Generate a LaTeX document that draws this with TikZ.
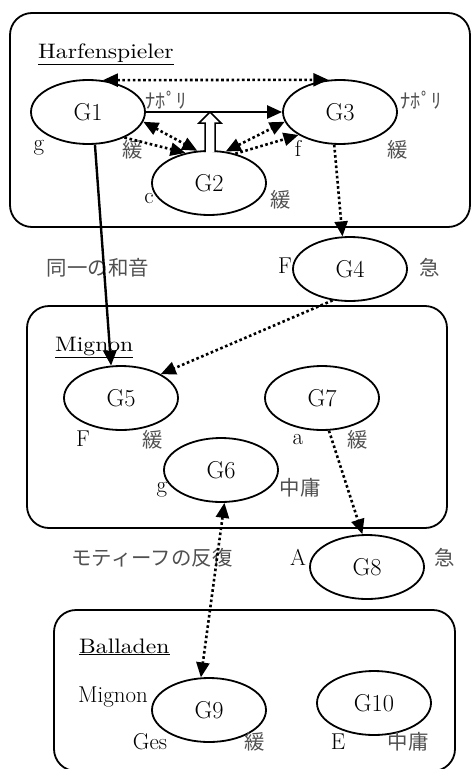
\documentclass[tikz,border=0pt]{standalone}
\usepackage{fontspec}
\newfontfamily\jp{Noto Sans CJK JP}
\newfontfamily\widelm{lmroman10-regular.otf}[FakeStretch=1.13]
\usetikzlibrary{shapes.geometric,arrows.meta}
\definecolor{jpgray}{RGB}{80,80,80}
\begin{document}
\begin{tikzpicture}[x=1bp,y=-1bp,
  >={Triangle[length=15bp,width=13bp]},
  gnode/.style={ellipse,draw,line width=1.8bp,minimum width=114bp,minimum height=64bp,
    inner sep=0pt,font=\fontsize{24.5}{28}\selectfont},
  lbl/.style={inner sep=0pt,font=\fontsize{23}{27}\selectfont},
  title/.style={inner sep=0pt,anchor=base west,font=\fontsize{21}{25}\selectfont\widelm},
  jlbl/.style={inner sep=0pt,text=jpgray,font=\fontsize{20.5}{24}\selectfont\jp},
  group/.style={draw,line width=1.8bp,rounded corners=22bp},
  solidarrow/.style={line width=2.4bp,->},
  dotarrow/.style={line width=2.6bp,dash pattern=on 2.6bp off 2.6bp,->},
  dotboth/.style={line width=2.6bp,dash pattern=on 2.6bp off 2.6bp,<->}
]
\useasboundingbox (0,0) rectangle (474,769);

% group frames
\draw[group] (10,13) rectangle (470,227);
\draw[group] (27,306) rectangle (447,528);
\draw[group] (54,610) rectangle (455,771);

% group titles
\node[title] (tHarf) at (38,59) {\underline{Harfenspieler}};
\node[title] (tMig) at (55,351) {\underline{Mignon}};
\node[title] (tBal) at (79,653) {\underline{Balladen}};

% chord groups
\node[gnode] (G1) at (88,112) {G1};
\node[gnode] (G3) at (340,112) {G3};
\node[gnode] (G2) at (209,183) {G2};
\node[gnode] (G4) at (350,269) {G4};
\node[gnode] (G5) at (121,398) {G5};
\node[gnode] (G7) at (322,398) {G7};
\node[gnode] (G6) at (221,470) {G6};
\node[gnode] (G8) at (367,567) {G8};
\node[gnode] (G9) at (209,710) {G9};
\node[gnode] (G10) at (374,703) {G10};

% keys and tempi
\node[jlbl] (nap1) at (166,100) {ﾅﾎﾟﾘ};
\node[jlbl] (nap3) at (421,100) {ﾅﾎﾟﾘ};
\node[lbl] (k1) at (39,148) {g};
\node[jlbl] (t1) at (133,150) {緩};
\node[lbl] (k3) at (298,148) {f};
\node[jlbl] (t3) at (398,150) {緩};
\node[lbl] (k2) at (149,199) {c};
\node[jlbl] (t2) at (281,200) {緩};

\node[jlbl] (same) at (98,268) {同一の和音};
\node[lbl] (k4) at (285,266) {F};
\node[jlbl] (t4) at (430,268) {急};

\node[lbl] (k5) at (83,439) {F};
\node[jlbl] (t5) at (153,440) {緩};
\node[lbl] (k7) at (298,440) {a};
\node[jlbl] (t7) at (358,440) {緩};
\node[lbl] (k6) at (162,490) {g};
\node[jlbl] (t6) at (300,488) {中庸};

\node[jlbl] (motif) at (152,558) {モティーフの反復};
\node[lbl] (k8) at (298,557) {A};
\node[jlbl] (t8) at (445,558) {急};

\node[lbl,anchor=base west] (mig9) at (78,702) {Mignon};
\node[lbl] (k9) at (150,742) {Ges};
\node[jlbl] (t9) at (255,742) {緩};
\node[lbl] (k10) at (338,742) {E};
\node[jlbl] (t10) at (408,742) {中庸};

% connectors within Harfenspieler
\draw[dotboth] (G1.65) -- (G3.110);
\draw[solidarrow] (G1.east) -- (G3.west);
\draw[dotboth] (G1.-10) -- (G2.110);
\draw[dotarrow] (G1.-35) -- (G2.128);
\draw[dotboth] (G2.62) -- (G3.190);
\draw[dotarrow] (G2.48) -- (G3.209);
% hollow arrow from G2 up to the G1-G3 line
\draw[line width=1.5bp,fill=white,line join=miter]
  (205,152) -- (205,123) -- (199,123) -- (210,112) -- (221,123) -- (215,123) -- (215,152);

% connectors between groups
\draw[solidarrow] (G1.-78) -- (G5.107);
\draw[dotarrow] (G3.-100) -- (G4.103);
\draw[dotarrow] (G4.-119) -- (G5.31);
\draw[dotarrow] (G7.-78) -- (G8.98);
\draw[dotboth] (G6.-84) -- (G9.104);
\end{tikzpicture}
\end{document}
